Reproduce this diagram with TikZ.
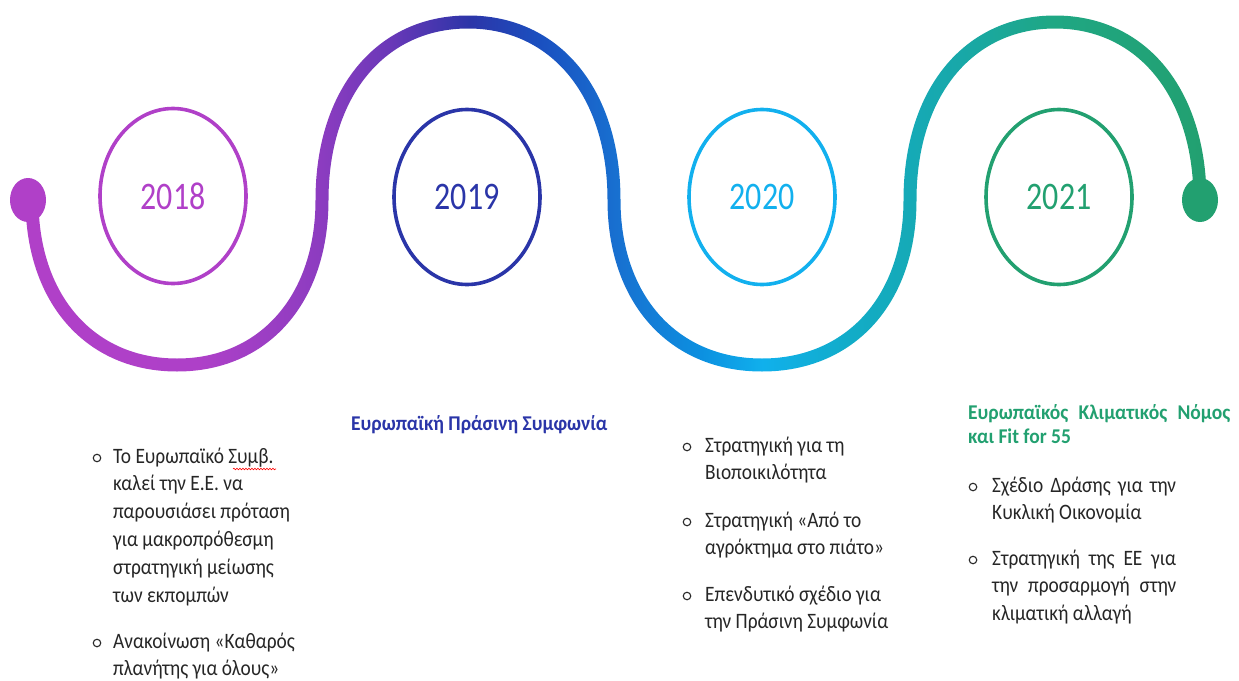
\documentclass[tikz,border=0pt]{standalone}
\usepackage{fontspec}
\setmainfont{Carlito}[FakeStretch=0.82]
\newfontfamily\bodyfont{Carlito}[FakeStretch=0.88]
\newfontfamily\headfont{Carlito}[FakeStretch=0.93]
\usetikzlibrary{shapes.geometric,decorations.pathmorphing}

\definecolor{c2018}{HTML}{B040C8}
\definecolor{c2019}{HTML}{2A35A8}
\definecolor{c2020}{HTML}{12B0EE}
\definecolor{c2021}{HTML}{22A070}
\definecolor{txt}{HTML}{262626}
% colours along the wave, left to right
\definecolor{w1}{HTML}{B040C8}
\definecolor{w2}{HTML}{AE40C8}
\definecolor{w3}{HTML}{8C3CC0}
\definecolor{w4}{HTML}{6A38B8}
\definecolor{w5}{HTML}{2C35A8}
\definecolor{w6}{HTML}{1A50C0}
\definecolor{w7}{HTML}{1870D0}
\definecolor{w8}{HTML}{0C90E0}
\definecolor{w9}{HTML}{10B0EC}
\definecolor{w10}{HTML}{12ACC8}
\definecolor{w11}{HTML}{18A8A8}
\definecolor{w12}{HTML}{1FA784}
\definecolor{w13}{HTML}{22A070}
\pgfdeclarehorizontalshading{wave}{100bp}{color(0bp)=(w1); color(25bp)=(w1);
  color(32.4bp)=(w2); color(37.5bp)=(w3); color(40.4bp)=(w4); color(43.8bp)=(w5);
  color(46.8bp)=(w6); color(50bp)=(w7); color(53.6bp)=(w8); color(56.2bp)=(w9);
  color(59.9bp)=(w10); color(64.6bp)=(w11); color(68.4bp)=(w12); color(75bp)=(w13);
  color(100bp)=(w13)}

% half of a rounded loop: from (cx-a,cy) to (cx+a,cy) through (cx,cy+b)
\def\kk{0.6}
\newcommand\halfell[4]{%
  .. controls ({#1-(#3)},{#2+\kk*(#4)}) and ({#1-\kk*(#3)},{#2+(#4)}) .. ({#1},{#2+(#4)})
  .. controls ({#1+\kk*(#3)},{#2+(#4)}) and ({#1+(#3)},{#2+\kk*(#4)}) .. ({#1+(#3)},{#2})}
\newcommand\lines[1]{\begin{tabular}[t]{@{}l@{}}#1\end{tabular}}

\tikzset{
  yearring/.style={ellipse, draw=#1, text=#1, line width=3.6pt,
    minimum width=146pt, minimum height=175pt, inner sep=0pt,
    font=\fontsize{39}{47}\selectfont},
  enddot/.style={ellipse, fill=#1, minimum width=36pt, minimum height=44pt, inner sep=0pt},
  body/.style={font=\bodyfont\fontsize{22}{27.8}\selectfont, text=txt, inner sep=0pt, anchor=base west},
  head/.style={font=\headfont\bfseries\fontsize{21}{24}\selectfont, text=#1, inner sep=0pt, anchor=base west},
  bul/.style={circle, draw=txt, line width=1.1pt, minimum size=7.5pt, inner sep=0pt},
}

\begin{document}
\begin{tikzpicture}[x=1pt,y=-1pt]
\useasboundingbox (0,0) rectangle (1239,680);

% the wave band, shaded from purple to green
\shade[shading=wave] (25.5,200)
  \halfell{177}{200}{151.5}{171.5}
  \halfell{468}{200}{139.5}{-171.5}
  \halfell{762}{200}{154.5}{171.5}
  \halfell{1055}{200}{138.5}{-171.5}
  -- (1206.5,200)
  \halfell{1055}{200}{-151.5}{-184.5}
  \halfell{762}{200}{-141.5}{158.5}
  \halfell{468}{200}{-152.5}{-184.5}
  \halfell{177}{200}{-138.5}{158.5}
  -- cycle;

\node[enddot=c2018] (start) at (28,200) {};
\node[enddot=c2021] (finish) at (1200,200) {};

% years
\node[yearring=c2018] (y2018) at (173,196) {2018};
\node[yearring=c2019] (y2019) at (467,197) {2019};
\node[yearring=c2020] (y2020) at (762,197) {2020};
\node[yearring=c2021] (y2021) at (1059,197) {2021};

% 2018
\node[bul] (b18a) at (97,458) {};
\node[body] (t18a) at (113,463) {\lines{Το Ευρωπαϊκό Συμβ.\\ καλεί την Ε.Ε. να\\ παρουσιάσει πρόταση\\ για μακροπρόθεσμη\\ στρατηγική μείωσης\\ των εκπομπών}};
\node[bul] (b18b) at (97,643) {};
\node[body] (t18b) at (113,648) {\lines{Ανακοίνωση «Καθαρός\\ πλανήτης για όλους»}};
\coordinate (sp1) at (233,469);
\coordinate (sp2) at (276,469);
\draw[red, line width=0.6pt, decorate, decoration={snake, amplitude=0.8pt, segment length=3pt}] (sp1) -- (sp2);

% 2019
\node[head=c2019] (h19) at (351,430) {Ευρωπαϊκή Πράσινη Συμφωνία};

% 2020
\node[bul] (b20a) at (687,447) {};
\node[body] (t20a) at (705,452) {\lines{Στρατηγική για τη\\ Βιοποικιλότητα}};
\node[bul] (b20b) at (687,522) {};
\node[body] (t20b) at (705,527) {\lines{Στρατηγική «Από το\\ αγρόκτημα στο πιάτο»}};
\node[bul] (b20c) at (687,596) {};
\node[body] (t20c) at (705,601) {\lines{Επενδυτικό σχέδιο για\\ την Πράσινη Συμφωνία}};

% 2021
\node[head=c2021] (h21) at (968,419) {\lines{\makebox[262pt][s]{Ευρωπαϊκός Κλιματικός Νόμος}\\ και Fit for 55}};
\node[bul] (b21a) at (973,487) {};
\node[body] (t21a) at (992,492) {\lines{\makebox[184pt][s]{Σχέδιο Δράσης για την}\\ Κυκλική Οικονομία}};
\node[bul] (b21b) at (973,560) {};
\node[body] (t21b) at (992,565) {\lines{\makebox[184pt][s]{Στρατηγική της ΕΕ για}\\ \makebox[184pt][s]{την προσαρμογή στην}\\ κλιματική αλλαγή}};
\end{tikzpicture}
\end{document}
